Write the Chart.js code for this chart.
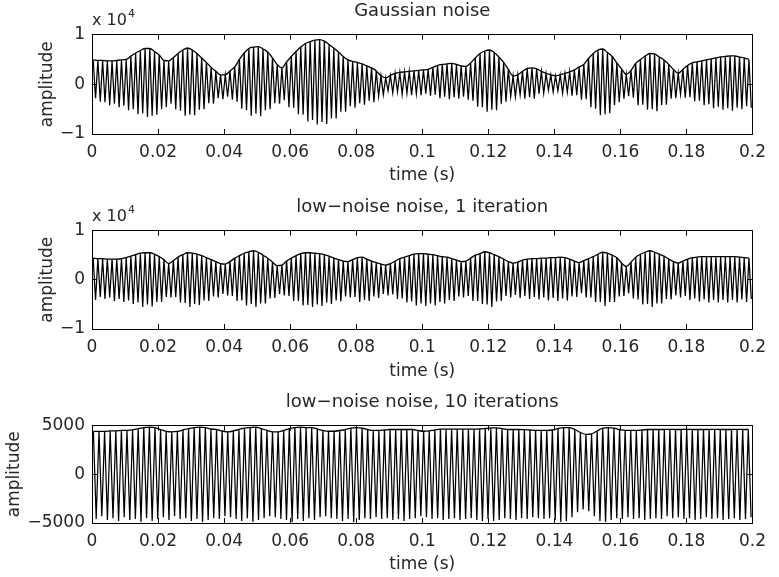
<!DOCTYPE html>
<html>
<head>
<meta charset="utf-8">
<title>noise amplitude</title>
<script src="https://cdn.jsdelivr.net/npm/chart.js@4.4.1/dist/chart.umd.min.js"></script>
<style>
  html, body { margin: 0; padding: 0; background: #fff; overflow: hidden; }
  #fig { position: relative; width: 779px; height: 577px; }
  #fig canvas { position: absolute; left: 0; }
</style>
</head>
<body>
<div id="fig">
  <canvas id="plot1" width="779" height="190" style="top:0px"></canvas>
  <canvas id="plot2" width="779" height="190" style="top:196px"></canvas>
  <canvas id="plot3" width="779" height="186" style="top:391px"></canvas>
</div>
<script>
// tick positions
var timeTicks = [0, 0.02, 0.04, 0.06, 0.08, 0.1, 0.12, 0.14, 0.16, 0.18, 0.2];
var ampTicksE4 = [-1, 0, 1];
var ampTicks = [-5000, 0, 5000];

// peak / trough of every carrier cycle, Gaussian noise (x 10^4)
var gaussTop = [
  .49,.48,.48,.47,.47,.48,.49,.50,.57,.63, .68,.72,.72,.66,.59,.48,.47,.54,.62,.69,
  .73,.69,.62,.53,.44,.34,.26,.19,.19,.27, .35,.50,.63,.72,.75,.76,.71,.65,.53,.40,
  .33,.45,.56,.66,.75,.82,.86,.89,.90,.87, .80,.73,.65,.56,.49,.46,.44,.41,.37,.33,
  .27,.17,.13,.18,.22,.24,.25,.26,.27,.28, .29,.30,.34,.38,.40,.41,.42,.40,.37,.36,
  .43,.53,.62,.67,.69,.64,.55,.44,.30,.17, .19,.26,.32,.33,.31,.26,.22,.19,.17,.19,
  .22,.25,.29,.35,.40,.52,.62,.69,.71,.64, .56,.43,.31,.20,.28,.42,.50,.57,.62,.61,
  .55,.49,.40,.30,.22,.30,.38,.43,.45,.47, .49,.51,.53,.55,.56,.57,.57,.55,.53,.50
];
var gaussBottom = [
  -.28,-.35,-.36,-.42,-.39,-.46,-.43,-.52,-.50,-.60, -.58,-.66,-.63,-.61,-.50,-.46,-.39,-.50,-.53,-.63,
  -.61,-.62,-.51,-.50,-.38,-.39,-.28,-.30,-.25,-.31, -.35,-.49,-.52,-.63,-.59,-.64,-.52,-.50,-.38,-.39,
  -.32,-.46,-.47,-.60,-.61,-.75,-.72,-.81,-.76,-.80, -.69,-.69,-.55,-.55,-.44,-.47,-.38,-.41,-.33,-.36,
  -.24,-.21,-.13,-.17,-.15,-.20,-.18,-.22,-.19,-.22, -.19,-.23,-.21,-.28,-.25,-.30,-.26,-.29,-.25,-.31,
  -.33,-.45,-.46,-.55,-.51,-.52,-.39,-.35,-.24,-.25, -.21,-.29,-.26,-.29,-.19,-.18,-.12,-.15,-.13,-.18,
  -.16,-.23,-.22,-.31,-.30,-.46,-.49,-.62,-.60,-.58, -.42,-.36,-.29,-.24,-.27,-.42,-.41,-.51,-.50,-.54,
  -.42,-.41,-.29,-.28,-.20,-.27,-.26,-.34,-.33,-.42, -.40,-.48,-.45,-.51,-.48,-.53,-.47,-.50,-.44,-.47
];

// low-noise noise after 1 iteration (x 10^4)
var iter1Top = [
  .44,.43,.43,.42,.42,.42,.43,.45,.48,.51, .54,.55,.55,.52,.47,.41,.33,.39,.46,.51,
  .55,.54,.52,.49,.45,.41,.37,.33,.32,.37, .44,.49,.54,.57,.59,.56,.50,.44,.36,.29,
  .30,.38,.44,.49,.53,.55,.55,.54,.53,.51, .48,.44,.41,.38,.37,.41,.45,.46,.42,.38,
  .35,.32,.30,.33,.38,.43,.46,.49,.52,.53, .53,.52,.51,.49,.47,.46,.43,.40,.37,.38,
  .44,.50,.53,.57,.55,.51,.47,.42,.37,.34, .36,.40,.42,.43,.43,.44,.44,.45,.45,.46,
  .45,.42,.38,.35,.39,.43,.47,.52,.56,.54, .50,.45,.34,.27,.36,.46,.52,.56,.59,.56,
  .52,.48,.42,.37,.34,.38,.42,.45,.46,.47, .47,.47,.47,.47,.47,.47,.47,.46,.45,.44
];
var iter1Bottom = [
  -.41,-.35,-.39,-.36,-.43,-.39,-.45,-.42,-.49,-.46, -.55,-.50,-.54,-.45,-.45,-.35,-.36,-.35,-.46,-.47,
  -.55,-.49,-.51,-.42,-.43,-.34,-.36,-.29,-.32,-.33, -.43,-.42,-.52,-.49,-.55,-.48,-.48,-.38,-.37,-.29,
  -.32,-.33,-.43,-.43,-.52,-.51,-.55,-.50,-.53,-.46, -.49,-.42,-.44,-.34,-.36,-.35,-.45,-.41,-.43,-.34,
  -.37,-.29,-.32,-.30,-.39,-.38,-.46,-.44,-.52,-.48, -.53,-.48,-.52,-.45,-.48,-.41,-.43,-.34,-.36,-.33,
  -.43,-.43,-.49,-.50,-.55,-.44,-.43,-.33,-.36,-.31, -.37,-.33,-.39,-.35,-.40,-.36,-.42,-.37,-.43,-.38,
  -.42,-.34,-.35,-.27,-.36,-.36,-.45,-.45,-.53,-.45, -.45,-.34,-.33,-.27,-.38,-.40,-.50,-.49,-.55,-.48,
  -.48,-.39,-.40,-.32,-.36,-.33,-.41,-.38,-.44,-.40, -.46,-.41,-.46,-.41,-.46,-.41,-.46,-.40,-.45,-.39
];

// low-noise noise after 10 iterations (thousands)
var iter10Top = [
  4.4,4.4,4.4,4.45,4.45,4.5,4.5,4.55,4.7,4.8, 4.85,4.8,4.6,4.4,4.35,4.4,4.55,4.7,4.8,4.85,
  4.8,4.65,4.6,4.45,4.35,4.45,4.6,4.75,4.8,4.85, 4.7,4.5,4.35,4.35,4.5,4.7,4.8,4.85,4.8,4.8,
  4.65,4.5,4.42,4.42,4.5,4.6,4.75,4.8,4.75,4.6, 4.5,4.5,4.55,4.6,4.6,4.6,4.6,4.6,4.5,4.42,
  4.45,4.55,4.63,4.63,4.63,4.63,4.63,4.63,4.63,4.65, 4.7,4.76,4.76,4.7,4.6,4.6,4.6,4.58,4.55,4.52,
  4.52,4.52,4.55,4.7,4.8,4.8,4.6,4.3,4.1,4.15, 4.45,4.75,4.8,4.75,4.6,4.52,4.52,4.52,4.55,4.6,
  4.6,4.6,4.6,4.62,4.6,4.6,4.62,4.6,4.6,4.6, 4.6,4.62,4.6,4.6,4.6,4.62,4.6,4.6
];
var iter10Bottom = [
  -4.6,-4.3,-4.7,-4.5,-4.8,-4.4,-4.7,-4.6,-4.9,-4.5, -4.8,-4.6,-4.4,-4.7,-4.3,-4.6,-4.5,-4.8,-4.6,-4.9,
  -4.7,-4.5,-4.6,-4.3,-4.4,-4.6,-4.8,-4.5,-4.9,-4.7, -4.5,-4.3,-4.4,-4.6,-4.7,-4.9,-4.6,-4.8,-4.5,-4.7,
  -4.4,-4.3,-4.5,-4.6,-4.8,-4.6,-4.9,-4.7,-4.5,-4.6, -4.4,-4.6,-4.5,-4.7,-4.6,-4.8,-4.6,-4.5,-4.3,-4.4,
  -4.6,-4.5,-4.7,-4.6,-4.5,-4.7,-4.6,-4.5,-4.7,-4.8, -4.6,-4.8,-4.7,-4.5,-4.6,-4.7,-4.5,-4.6,-4.4,-4.5,
  -4.6,-4.5,-4.7,-4.9,-4.8,-4.4,-3.9,-3.6,-3.8,-4.3, -4.8,-4.9,-4.7,-4.5,-4.6,-4.4,-4.6,-4.5,-4.7,-4.6,
  -4.5,-4.6,-4.3,-4.5,-4.4,-4.6,-4.5,-4.7,-4.6,-4.4, -4.6,-4.5,-4.7,-4.6,-4.5,-4.7,-4.6,-4.4
];

var ink = '#000';
var textInk = '#262626';
var tickFont = { family: 'DejaVu Sans', size: 17 };
var titleFont = { family: 'DejaVu Sans', size: 18, weight: 'normal' };

Chart.defaults.font.family = 'DejaVu Sans';

// "x 10^4" multiplier above the y axis
var exponentLabel = {
    id: 'exponentLabel',
    afterDraw: function (chart, args, o) {
        if (!o.exp) return;
        var ctx = chart.ctx, area = chart.chartArea;
        ctx.save();
        ctx.fillStyle = textInk;
        ctx.textBaseline = 'alphabetic';
        ctx.textAlign = 'left';
        ctx.font = '16px "DejaVu Sans"';
        var base = area.top - 10;
        ctx.fillText('x 10', area.left, base);
        var w = ctx.measureText('x 10').width;
        ctx.font = '11px "DejaVu Sans"';
        ctx.fillText(o.exp, area.left + w + 1, base - 8);
        ctx.restore();
    }
};

function fixedTicks(values) {
    return function (scale) {
        scale.ticks = values.map(function (v) { return { value: v }; });
    };
}

function frameGrid() {
    return { drawOnChartArea: false, drawTicks: true, tickLength: -5, color: ink, lineWidth: 1 };
}

function makePlot(id, cfg) {
    var period = 0.2 / cfg.top.length;
    var signal = [], envelope = [];
    cfg.top.forEach(function (v, i) {
        signal.push({ x: (i + 0.25) * period, y: v * cfg.unit });
        signal.push({ x: (i + 0.75) * period, y: cfg.bottom[i] * cfg.unit });
        envelope.push({ x: (i + 0.25) * period, y: v * cfg.unit });
    });

    var canvas = document.getElementById(id);
    return new Chart(canvas, {
        type: 'line',
        data: {
            datasets: [{
                data: signal,
                borderColor: ink,
                borderWidth: 1.25,
                pointRadius: 0,
                tension: 0,
                xAxisID: 'x',
                yAxisID: 'y'
            }, {
                data: envelope,
                borderColor: ink,
                borderWidth: 1.3,
                pointRadius: 0,
                cubicInterpolationMode: 'monotone',
                xAxisID: 'x',
                yAxisID: 'y'
            }]
        },
        options: {
            responsive: false,
            animation: false,
            events: [],
            devicePixelRatio: 1,
            layout: { padding: { left: 0, right: 15, top: 0, bottom: 0 } },
            scales: {
                x: {
                    type: 'linear', position: 'bottom', min: 0, max: 0.2,
                    afterBuildTicks: fixedTicks(timeTicks),
                    afterFit: function (s) { s.height = cfg.xHeight; },
                    ticks: {
                        color: textInk, font: tickFont, padding: 13, maxRotation: 0, autoSkip: false,
                        callback: function (v) { return String(+v.toFixed(2)); }
                    },
                    grid: frameGrid(),
                    border: { display: true, color: ink, width: 1 },
                    title: {
                        display: true, text: 'time (s)', color: textInk, font: tickFont,
                        padding: { top: 0, bottom: cfg.xTitlePad }
                    }
                },
                xTop: {
                    type: 'linear', position: 'top', min: 0, max: 0.2,
                    afterBuildTicks: fixedTicks(timeTicks),
                    afterFit: function (s) { s.height = 0; },
                    ticks: { display: false },
                    grid: frameGrid(),
                    border: { display: true, color: ink, width: 1 }
                },
                y: {
                    type: 'linear', position: 'left', min: cfg.yTicks[0], max: cfg.yTicks[cfg.yTicks.length - 1],
                    afterBuildTicks: fixedTicks(cfg.yTicks),
                    afterFit: function (s) { s.width = 92; },
                    ticks: {
                        color: textInk, font: tickFont, padding: 12, autoSkip: false,
                        callback: function (v) { return v < 0 ? '\u2212' + Math.abs(v) : String(v); }
                    },
                    grid: frameGrid(),
                    border: { display: true, color: ink, width: 1 },
                    title: {
                        display: true, text: 'amplitude', color: textInk, font: tickFont,
                        padding: { top: cfg.yTitlePad, bottom: 0 }
                    }
                },
                yRight: {
                    type: 'linear', position: 'right', min: cfg.yTicks[0], max: cfg.yTicks[cfg.yTicks.length - 1],
                    afterBuildTicks: fixedTicks(cfg.yTicks),
                    afterFit: function (s) { s.width = 0; },
                    ticks: { display: false },
                    grid: frameGrid(),
                    border: { display: true, color: ink, width: 1 }
                }
            },
            plugins: {
                legend: { display: false },
                tooltip: { enabled: false },
                title: {
                    display: true, text: cfg.title, color: textInk, font: titleFont,
                    fullSize: false, padding: { top: 1, bottom: 12 }
                },
                exponentLabel: { exp: cfg.exp }
            }
        },
        plugins: [exponentLabel]
    });
}

makePlot('plot1', {
    title: 'Gaussian noise', top: gaussTop, bottom: gaussBottom, unit: 1,
    yTicks: ampTicksE4, exp: '4', xHeight: 56, xTitlePad: 4, yTitlePad: 37
});
makePlot('plot2', {
    title: 'low\u2212noise noise, 1 iteration', top: iter1Top, bottom: iter1Bottom, unit: 1,
    yTicks: ampTicksE4, exp: '4', xHeight: 57, xTitlePad: 4, yTitlePad: 37
});
makePlot('plot3', {
    title: 'low\u2212noise noise, 10 iterations', top: iter10Top, bottom: iter10Bottom, unit: 1000,
    yTicks: ampTicks, exp: null, xHeight: 54, xTitlePad: 2, yTitlePad: 4
});
</script>
</body>
</html>
